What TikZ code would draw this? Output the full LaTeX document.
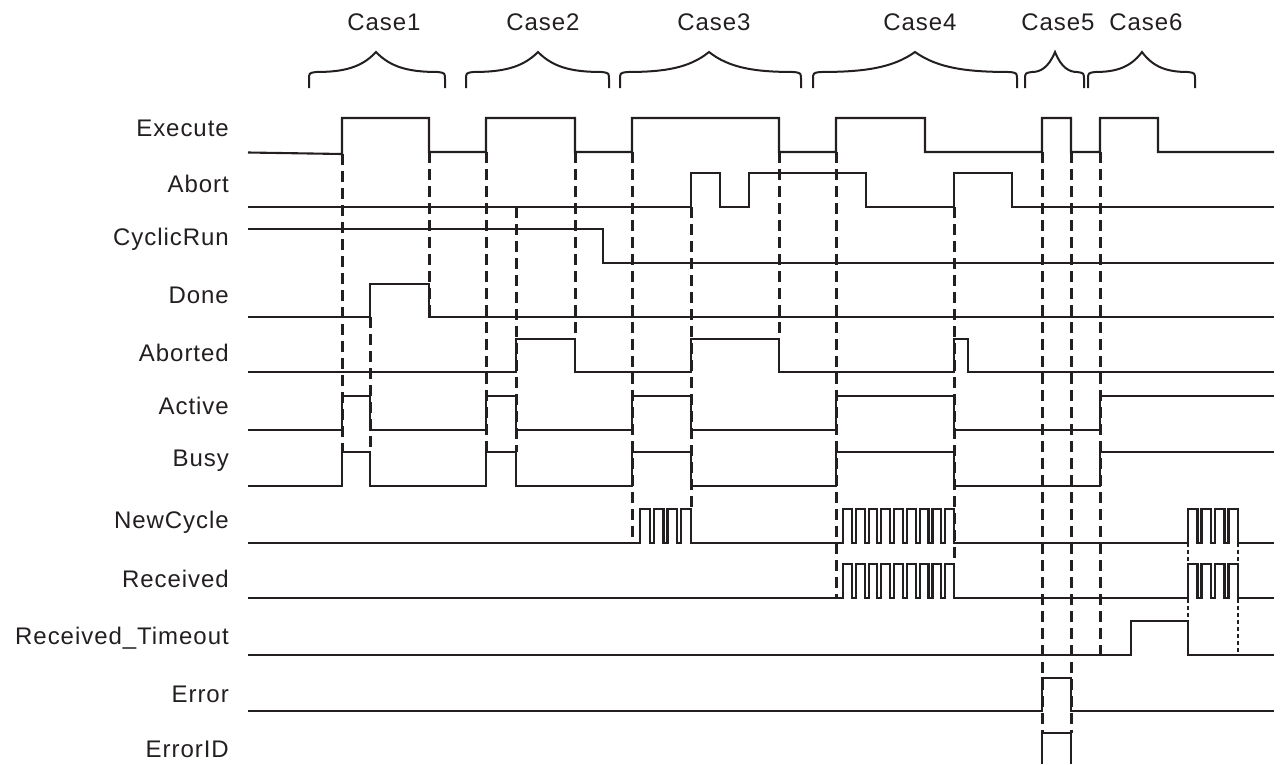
\documentclass[tikz,border=0pt]{standalone}
\usepackage{fontspec}
\setmainfont{Liberation Sans}[LetterSpace=4]
\definecolor{ink}{RGB}{35,31,32}
\tikzset{
  sig/.style={draw=ink, line width=2.1pt, line join=miter},
  guide/.style={draw=ink, line width=3pt, dash pattern=on 11pt off 6pt},
  fineguide/.style={draw=ink, line width=2.2pt, dash pattern=on 4pt off 3pt},
  brace/.style={draw=ink, line width=2pt},
  lbl/.style={anchor=east, inner sep=0pt, font=\fontsize{24}{28}\selectfont, text=ink},
  caselbl/.style={anchor=center, inner sep=0pt, font=\fontsize{24}{28}\selectfont, text=ink}
}
\newcommand\casebrace[3]{%
  \draw[brace] (#1,88) -- (#1,80) .. controls (#1,73) .. ({#1+7},72)
    .. controls ({#1+0.5*(#2-#1)},72) and ({#2-0.22*(#2-#1)},68) .. (#2,52)
    .. controls ({#2+0.22*(#3-#2)},68) and ({#3-0.5*(#3-#2)},72) .. ({#3-7},72)
    .. controls (#3,73) .. (#3,80) -- (#3,88);}
\begin{document}
\begin{tikzpicture}[x=1pt,y=-1pt]
\useasboundingbox (0,0) rectangle (1280,764);

% case labels and braces
\node[caselbl] (c1) at (384,22) {Case1};
\node[caselbl] (c2) at (543,22) {Case2};
\node[caselbl] (c3) at (714,22) {Case3};
\node[caselbl] (c4) at (920,22) {Case4};
\node[caselbl] (c5) at (1058,22) {Case5};
\node[caselbl] (c6) at (1146,22) {Case6};
\casebrace{309}{376}{445}
\casebrace{466}{538}{609}
\casebrace{620}{709}{801}
\casebrace{813}{915}{1017}
\casebrace{1025}{1055}{1084}
\casebrace{1088}{1142}{1195}

% signal labels
\node[lbl] (lExecute) at (229,128) {Execute};
\node[lbl] (lAbort) at (229,184) {Abort};
\node[lbl] (lCyclic) at (229,239) {CyclicRun};
\node[lbl] (lDone) at (229,295) {Done};
\node[lbl] (lAborted) at (229,353) {Aborted};
\node[lbl] (lActive) at (229,406) {Active};
\node[lbl] (lBusy) at (229,461) {Busy};
\node[lbl] (lNew) at (229,522) {NewCycle};
\node[lbl] (lRec) at (229,579) {Received};
\node[lbl] (lRT) at (229,638) {Received\_Timeout};
\node[lbl] (lErr) at (229,694) {Error};
\node[lbl] (lErrID) at (229,749) {ErrorID};

% Execute
\draw[sig] (248,152.5) -- (342,154) -- (342,118) -- (429,118) -- (429,152) -- (486,152) -- (486,118)
  -- (575,118) -- (575,152) -- (632,152) -- (632,118) -- (779,118) -- (779,152) -- (836,152)
  -- (836,118) -- (925,118) -- (925,152) -- (1042,152) -- (1042,118) -- (1071,118) -- (1071,152)
  -- (1100,152) -- (1100,118) -- (1158,118) -- (1158,152) -- (1274,152);
% Abort
\draw[sig] (248,207) -- (691,207) -- (691,173) -- (720,173) -- (720,207) -- (749,207) -- (749,173)
  -- (866,173) -- (866,207) -- (954,207) -- (954,173) -- (1012,173) -- (1012,207) -- (1274,207);
% CyclicRun
\draw[sig] (248,229) -- (603,229) -- (603,263) -- (1274,263);
% Done
\draw[sig] (248,317) -- (370,317) -- (370,284) -- (429,284) -- (429,317) -- (1274,317);
% Aborted
\draw[sig] (248,372) -- (516,372) -- (516,339) -- (575,339) -- (575,372) -- (691,372) -- (691,339)
  -- (779,339) -- (779,372) -- (954,372) -- (954,339) -- (968,339) -- (968,372) -- (1274,372);
% Active
\draw[sig] (248,430) -- (342,430) -- (342,396) -- (370,396) -- (370,430) -- (486,430) -- (486,396)
  -- (516,396) -- (516,430) -- (632,430) -- (632,396) -- (691,396) -- (691,430) -- (836,430)
  -- (836,396) -- (954,396) -- (954,430) -- (1100,430) -- (1100,396) -- (1274,396);
% Busy
\draw[sig] (248,486) -- (342,486) -- (342,452) -- (370,452) -- (370,486) -- (486,486) -- (486,452)
  -- (516,452) -- (516,486) -- (632,486) -- (632,452) -- (691,452) -- (691,486) -- (836,486)
  -- (836,452) -- (954,452) -- (954,486) -- (1100,486) -- (1100,452) -- (1274,452);
% NewCycle
\draw[sig] (248,543) -- (640,543)
  \foreach \k in {0,...,3}{ -- ({640+\k*13.75},543) -- ({640+\k*13.75},509) -- ({649.75+\k*13.75},509) -- ({649.75+\k*13.75},543) }
  -- (843,543)
  \foreach \k in {0,...,8}{ -- ({843+\k*12.78},543) -- ({843+\k*12.78},509) -- ({851.78+\k*12.78},509) -- ({851.78+\k*12.78},543) }
  -- (1188,543)
  \foreach \k in {0,...,3}{ -- ({1188+\k*13.5},543) -- ({1188+\k*13.5},509) -- ({1197.5+\k*13.5},509) -- ({1197.5+\k*13.5},543) }
  -- (1274,543);
% Received
\draw[sig] (248,598) -- (843,598)
  \foreach \k in {0,...,8}{ -- ({843+\k*12.78},598) -- ({843+\k*12.78},564) -- ({851.78+\k*12.78},564) -- ({851.78+\k*12.78},598) }
  -- (1188,598)
  \foreach \k in {0,...,3}{ -- ({1188+\k*13.5},598) -- ({1188+\k*13.5},564) -- ({1197.5+\k*13.5},564) -- ({1197.5+\k*13.5},598) }
  -- (1274,598);
% Received_Timeout
\draw[sig] (248,655) -- (1131,655) -- (1131,621) -- (1188,621) -- (1188,655) -- (1274,655);
% Error
\draw[sig] (248,711) -- (1042,711) -- (1042,678) -- (1071,678) -- (1071,711) -- (1274,711);
% ErrorID
\draw[sig] (1042,764) -- (1042,733) -- (1071,733) -- (1071,764);

% guide lines
\draw[guide] (342,154) -- (342,452);
\draw[guide] (370,317) -- (370,452);
\draw[guide] (429,152) -- (429,317);
\draw[guide] (486,152) -- (486,452);
\draw[guide] (516,207) -- (516,452);
\draw[guide] (575,152) -- (575,339);
\draw[guide] (632,152) -- (632,543);
\draw[guide] (691,207) -- (691,509);
\draw[guide] (779,152) -- (779,339);
\draw[guide] (836,152) -- (836,598);
\draw[guide] (954,207) -- (954,564);
\draw[guide] (1042,152) -- (1042,733);
\draw[guide] (1071,152) -- (1071,733);
\draw[guide] (1100,152) -- (1100,655);
\draw[fineguide] (1188,543) -- (1188,655);
\draw[fineguide] (1238,543) -- (1238,655);
\end{tikzpicture}
\end{document}
